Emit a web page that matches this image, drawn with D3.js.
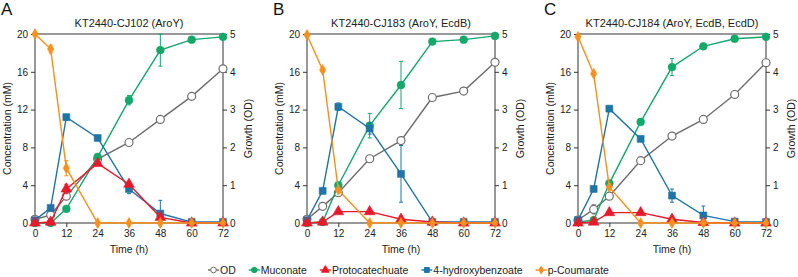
<!DOCTYPE html>
<html lang="en">
<head>
<meta charset="UTF-8">
<title>KT2440 time courses</title>
<style>
    body { margin: 0; background: #fff; }
    svg { display: block; font-family: "Liberation Sans", Arial, sans-serif; }
    .axis path, .axis line { stroke: #333; }
    .axis text { font-size: 10px; fill: #222; }
</style>
</head>
<body>
<svg id="chart" width="798" height="277"></svg>
<script src="https://d3js.org/d3.v7.min.js"></script>
<script>
// sampling times (h)
const times = [0, 6, 12, 24, 36, 48, 60, 72];
const xTicks = [0, 12, 24, 36, 48, 60, 72];
const concTicks = [0, 4, 8, 12, 16, 20];
const odTicks = [0, 1, 2, 3, 4, 5];

const letters = ["A", "B", "C"];
const titles = ["KT2440-CJ102 (AroY)", "KT2440-CJ183 (AroY, EcdB)", "KT2440-CJ184 (AroY, EcdB, EcdD)"];

// panel A
const odA = [0.1, 0.21, 0.71, 1.69, 2.13, 2.74, 3.35, 4.08];
const mucA = [0, 0, 1.5, 7.0, 13.0, 18.3, 19.4, 19.7];
const pcaA = [0, 0.1, 3.6, 6.3, 4.1, 0.6, 0, 0];
const hbaA = [0.3, 1.6, 11.2, 9.0, 3.6, 1.0, 0.1, 0.1];
const coumA = [20, 18.4, 5.8, 0, 0, 0, 0, 0];
const mucErrA = [0, 0, 0, 0, 0.5, 1.7, 0, 0];
const pcaErrA = [0, 0, 0.5, 0, 0, 0, 0, 0];
const hbaErrA = [0, 0, 0.3, 0, 0.5, 1.4, 0, 0];
const coumErrA = [0, 0.4, 0.8, 0, 0, 0, 0, 0];
const odErrA = [0, 0, 0, 0, 0, 0, 0, 0];

// panel B
const odB = [0.1, 0.44, 0.8, 1.7, 2.18, 3.32, 3.49, 4.25];
const mucB = [0, 0.1, 4.0, 10.3, 14.6, 19.2, 19.4, 19.8];
const pcaB = [0, 0.1, 1.2, 1.2, 0.4, 0.1, 0, 0];
const hbaB = [0.3, 3.4, 12.3, 10.0, 5.2, 0.1, 0.1, 0.1];
const coumB = [19.9, 16.2, 3.5, 0, 0, 0, 0, 0];
const mucErrB = [0, 0, 0, 1.3, 2.5, 0, 0, 0];
const pcaErrB = [0, 0, 0, 0, 0, 0, 0, 0];
const hbaErrB = [0, 0.3, 0.4, 0.6, 3.0, 0, 0, 0];
const coumErrB = [0, 0.2, 0, 0, 0, 0, 0, 0];
const odErrB = [0, 0, 0, 0, 0, 0, 0, 0];

// panel C
const odC = [0.08, 0.36, 0.71, 1.65, 2.3, 2.74, 3.4, 4.24];
const mucC = [0.1, 0.3, 4.2, 10.7, 16.5, 18.7, 19.5, 19.7];
const pcaC = [0, 0.1, 1.1, 1.1, 0.4, 0.05, 0, 0];
const hbaC = [0.3, 3.6, 12.1, 8.9, 2.9, 0.8, 0.15, 0.1];
const coumC = [19.7, 15.8, 3.8, 0, 0, 0, 0, 0];
const mucErrC = [0, 0, 0, 0, 0.9, 0, 0, 0];
const pcaErrC = [0, 0, 0, 0, 0, 0, 0, 0];
const hbaErrC = [0, 0, 0, 0, 0.7, 1.0, 0, 0];
const coumErrC = [0, 0.2, 0, 0, 0, 0, 0, 0];
const odErrC = [0, 0.12, 0, 0, 0, 0, 0.05, 0.07];

const seriesNames = ["OD", "Muconate", "Protocatechuate", "4-hydroxybenzoate", "p-Coumarate"];
const colors = {"OD": "#6d6d6d", "Muconate": "#14a86a", "Protocatechuate": "#e8192c", "4-hydroxybenzoate": "#1f75a6", "p-Coumarate": "#f7901e"};
const shapes = {"OD": d3.symbolCircle, "Muconate": d3.symbolCircle, "Protocatechuate": d3.symbolTriangle, "4-hydroxybenzoate": d3.symbolSquare, "p-Coumarate": d3.symbolDiamond};
const sizes = {"OD": 50, "Muconate": 48, "Protocatechuate": 50, "4-hydroxybenzoate": 48, "p-Coumarate": 34};

const panels = [
    {od: odA, muc: mucA, pca: pcaA, hba: hbaA, coum: coumA, odErr: odErrA, mucErr: mucErrA, pcaErr: pcaErrA, hbaErr: hbaErrA, coumErr: coumErrA},
    {od: odB, muc: mucB, pca: pcaB, hba: hbaB, coum: coumB, odErr: odErrB, mucErr: mucErrB, pcaErr: pcaErrB, hbaErr: hbaErrB, coumErr: coumErrB},
    {od: odC, muc: mucC, pca: pcaC, hba: hbaC, coum: coumC, odErr: odErrC, mucErr: mucErrC, pcaErr: pcaErrC, hbaErr: hbaErrC, coumErr: coumErrC}
];

const svg = d3.select('#chart');
const panelLeft = [35, 307, 578];
const plotW = 188;
const plotTop = 34, plotBottom = 223;

panels.forEach((p, i) => {
    const g = svg.append('g').attr('transform', `translate(${panelLeft[i]},0)`);
    const x = d3.scaleLinear().domain([0, 72]).range([0, plotW]);
    const y = d3.scaleLinear().domain([0, 20]).range([plotBottom, plotTop]);
    const yOd = d3.scaleLinear().domain([0, 5]).range([plotBottom, plotTop]);

    // frame
    g.append('rect').attr('x', 0).attr('y', plotTop).attr('width', plotW).attr('height', plotBottom - plotTop)
        .attr('fill', 'none').attr('stroke', '#333');

    g.append('g').attr('class', 'axis').attr('transform', `translate(0,${plotBottom})`)
        .call(d3.axisBottom(x).tickValues(xTicks).tickSize(4).tickPadding(3));
    g.append('g').attr('class', 'axis')
        .call(d3.axisLeft(y).tickValues(concTicks).tickSize(4).tickPadding(3));
    g.append('g').attr('class', 'axis').attr('transform', `translate(${plotW},0)`)
        .call(d3.axisRight(yOd).tickValues(odTicks).tickFormat(d3.format('d')).tickSize(4).tickPadding(3));
    g.selectAll('.axis .domain').remove();

    // labels
    g.append('text').attr('x', plotW / 2).attr('y', 27).attr('text-anchor', 'middle')
        .attr('font-size', 11).attr('fill', '#222').text(titles[i]);
    g.append('text').attr('x', plotW / 2).attr('y', 253).attr('text-anchor', 'middle')
        .attr('font-size', 10.5).attr('fill', '#222').text('Time (h)');
    g.append('text').attr('transform', `translate(-24,${(plotTop + plotBottom) / 2}) rotate(-90)`)
        .attr('text-anchor', 'middle').attr('font-size', 10.5).attr('fill', '#222').text('Concentration (mM)');
    g.append('text').attr('transform', `translate(${plotW + 29},${(plotTop + plotBottom) / 2}) rotate(-90)`)
        .attr('text-anchor', 'middle').attr('font-size', 10.5).attr('fill', '#222').text('Growth (OD)');
    g.append('text').attr('x', -34).attr('y', 15).attr('font-size', 17).attr('fill', '#111').text(letters[i]);

    const series = [
        {name: 'OD', vals: p.od, err: p.odErr, sc: yOd},
        {name: 'Muconate', vals: p.muc, err: p.mucErr, sc: y},
        {name: '4-hydroxybenzoate', vals: p.hba, err: p.hbaErr, sc: y},
        {name: 'Protocatechuate', vals: p.pca, err: p.pcaErr, sc: y},
        {name: 'p-Coumarate', vals: p.coum, err: p.coumErr, sc: y}
    ];

    series.forEach(s => {
        const c = colors[s.name];
        const pts = times.map((t, k) => ({t, v: s.vals[k], e: s.err[k]}));
        const line = d3.line().x(d => x(d.t)).y(d => s.sc(d.v));
        const sg = g.append('g');
        sg.append('path').datum(pts).attr('d', line).attr('fill', 'none')
            .attr('stroke', c).attr('stroke-width', 1.4);
        const eb = sg.selectAll('g.err').data(pts.filter(d => d.e > 0)).enter().append('g')
            .attr('stroke', c).attr('stroke-width', 1);
        eb.append('line').attr('x1', d => x(d.t)).attr('x2', d => x(d.t))
            .attr('y1', d => s.sc(Math.max(0, d.v - d.e))).attr('y2', d => s.sc(d.v + d.e));
        eb.append('line').attr('x1', d => x(d.t) - 2).attr('x2', d => x(d.t) + 2)
            .attr('y1', d => s.sc(d.v + d.e)).attr('y2', d => s.sc(d.v + d.e));
        eb.append('line').attr('x1', d => x(d.t) - 2).attr('x2', d => x(d.t) + 2)
            .attr('y1', d => s.sc(Math.max(0, d.v - d.e))).attr('y2', d => s.sc(Math.max(0, d.v - d.e)));
        sg.selectAll('path.pt').data(pts).enter().append('path')
            .attr('transform', d => `translate(${x(d.t)},${s.sc(d.v)})`)
            .attr('d', d3.symbol().type(shapes[s.name]).size(sizes[s.name]))
            .attr('fill', s.name === 'OD' ? '#fff' : c)
            .attr('stroke', c).attr('stroke-width', s.name === 'OD' ? 1.2 : 0.6);
    });
});

// legend
const legend = svg.append('g').attr('transform', 'translate(0,270)');
let lx = 208;
seriesNames.forEach(name => {
    const c = colors[name];
    const item = legend.append('g').attr('transform', `translate(${lx},0)`);
    item.append('line').attr('x1', 0).attr('x2', 11).attr('stroke', c).attr('stroke-width', 1.4);
    item.append('path').attr('transform', 'translate(5.5,0)')
        .attr('d', d3.symbol().type(shapes[name]).size(sizes[name] * 0.5))
        .attr('fill', name === 'OD' ? '#fff' : c).attr('stroke', c);
    const t = item.append('text').attr('x', 12).attr('y', 4).attr('font-size', 10.5).attr('fill', '#222').text(name);
    lx += 12 + t.node().getComputedTextLength() + 13;
});
</script>
</body>
</html>
